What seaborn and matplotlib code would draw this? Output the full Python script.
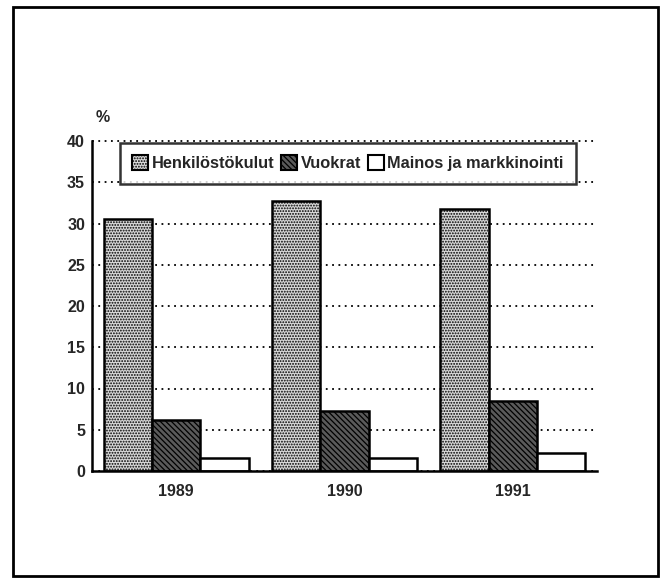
import pandas as pd
import seaborn as sns
import matplotlib.pyplot as plt
from matplotlib.patches import Patch, Rectangle

years = ['1989', '1990', '1991']
series = ['Henkilöstökulut', 'Vuokrat', 'Mainos ja markkinointi']
henkilosto = [30.5, 32.7, 31.7]
vuokrat = [6.2, 7.3, 8.5]
mainos = [1.6, 1.6, 2.2]
y_ticks = [0, 5, 10, 15, 20, 25, 30, 35, 40]

df = pd.DataFrame({
    'vuosi': years * 3,
    'sarja': [s for s in series for _ in years],
    'arvo': henkilosto + vuokrat + mainos,
})

sns.set_style('white')
plt.rcParams['font.family'] = ['Liberation Sans', 'DejaVu Sans']
plt.rcParams['font.weight'] = 'bold'
plt.rcParams['hatch.linewidth'] = 0.9

fills = {'Henkilöstökulut': ('#d8d8d8', '......'),
         'Vuokrat': ('#5a5a5a', '\\\\\\\\\\\\'),
         'Mainos ja markkinointi': ('white', '')}

fig = plt.figure(figsize=(6.71, 5.78), dpi=100)
ax = fig.add_axes([92 / 671, 1 - 471 / 578, 505 / 671, 330 / 578])

sns.barplot(data=df, x='vuosi', y='arvo', hue='sarja', order=years, hue_order=series,
            width=0.86, ax=ax, legend=False, errorbar=None, saturation=1)

for cont, name in zip(ax.containers, series):
    fc, hatch = fills[name]
    for bar in cont:
        bar.set_facecolor(fc)
        bar.set_hatch(hatch)
        bar.set_edgecolor('black')
        bar.set_linewidth(1.8)
        bar.set_zorder(3)

ax.set_ylim(0, 40)
ax.set_xlim(-0.5, 2.5)
ax.set_yticks(y_ticks)
ax.set_yticklabels([str(t) for t in y_ticks], fontsize=11.5, fontweight='bold')
ax.set_xticklabels(years, fontsize=11.5, fontweight='bold')
ax.tick_params(axis='y', length=0, pad=5)
ax.tick_params(axis='x', length=0, pad=9)
ax.set_xlabel('')
ax.set_ylabel('')
ax.yaxis.grid(True, color='black', linestyle=(0, (1, 2.5)), linewidth=1.3)
for gl in ax.get_ygridlines():
    gl.set_clip_on(False)
ax.set_axisbelow(True)
for side in ['top', 'right']:
    ax.spines[side].set_visible(False)
for side in ['left', 'bottom']:
    ax.spines[side].set_color('black')
    ax.spines[side].set_linewidth(1.8)
    ax.spines[side].set_zorder(4)

ax.text(0.008, 1.05, '%', transform=ax.transAxes, fontsize=11.5, fontweight='bold',
        ha='left', va='bottom')

handles = [Patch(facecolor=fills[s][0], hatch=fills[s][1], edgecolor='black', linewidth=1.5)
           for s in series]
leg = ax.legend(handles, series, loc='upper left', bbox_to_anchor=(0.055, 0.994),
                ncol=3, frameon=True, fancybox=False, borderaxespad=0,
                handlelength=1.0, handleheight=1.0, handletextpad=0.2,
                columnspacing=0.4, borderpad=0.75, prop={'size': 11.8, 'weight': 'bold'})
leg.get_frame().set_edgecolor('black')
leg.get_frame().set_linewidth(1.8)
leg.set_zorder(5)

# ulkokehys
fig.patches.append(Rectangle((13 / 671, 2 / 578), 645 / 671, 569 / 578,
                             transform=fig.transFigure, fill=False,
                             edgecolor='black', linewidth=2))

fig.savefig('out.png', dpi=100)
plt.close()
